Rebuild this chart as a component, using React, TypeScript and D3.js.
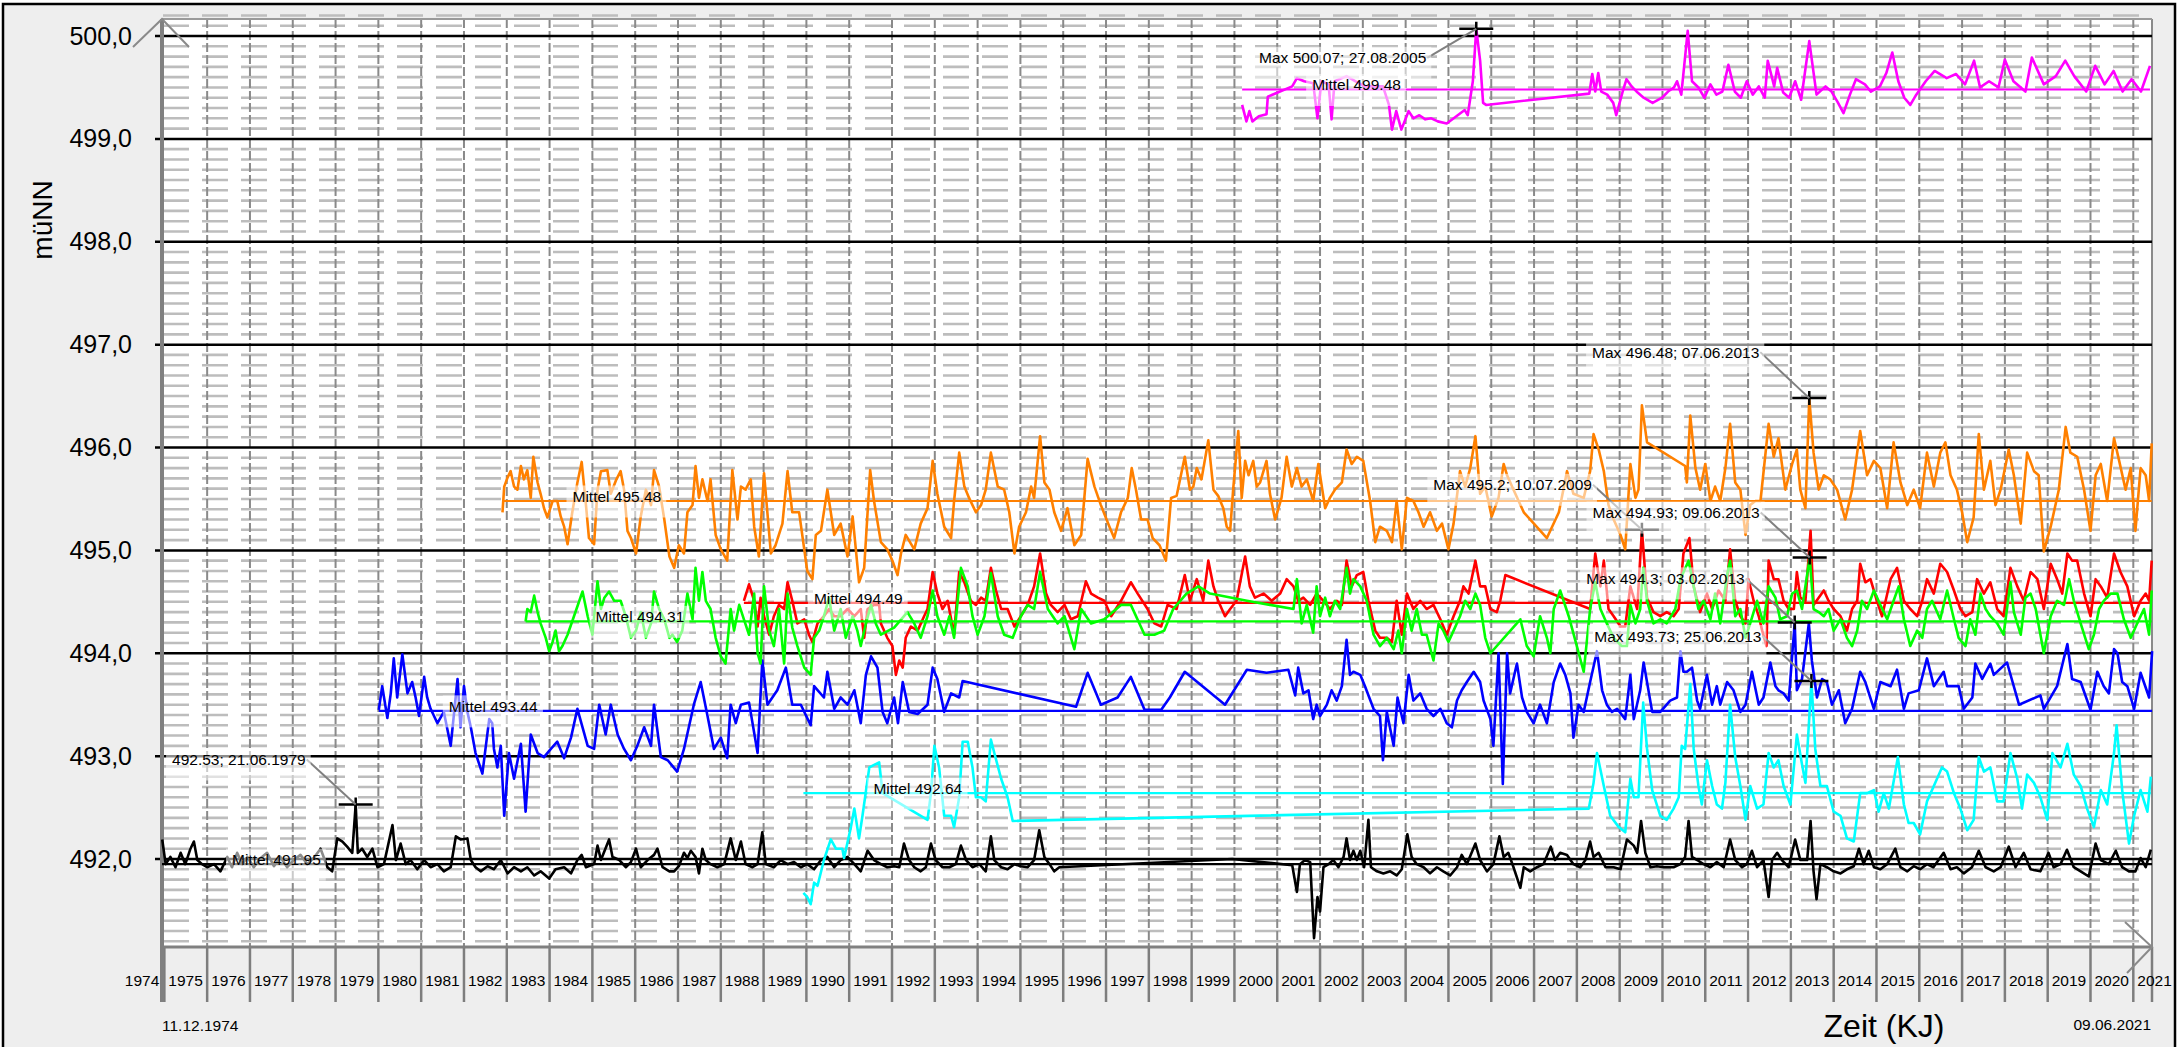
import React, { useEffect, useRef } from 'react';
import * as d3 from 'd3';

// [decimal year, level in müNN]
const blackData: [number, number][] = [
  [1974.95,492.19],[1975.03,491.95],[1975.14,492.02],[1975.26,491.92],[1975.38,492.06],[1975.49,491.95],[1975.61,492.10],[1975.69,492.17],[1975.77,491.99],[1975.88,491.95],[1976.0,491.92],[1976.16,491.95],[1976.31,491.88],
  [1976.47,492.02],[1976.58,491.92],[1976.70,492.06],[1976.82,491.95],[1976.94,492.02],[1977.09,491.92],[1977.25,492.01],[1977.40,492.06],[1977.56,491.93],[1977.71,492.02],[1977.87,491.92],[1978.02,491.99],[1978.18,492.04],[1978.34,491.95],[1978.49,492.01],[1978.65,492.10],[1978.81,491.92],[1978.92,491.88],
  [1979.04,492.20],[1979.16,492.17],[1979.27,492.12],[1979.39,492.06],[1979.47,492.53],[1979.52,492.06],[1979.62,492.10],[1979.74,492.02],[1979.86,492.10],[1979.98,491.92],
  [1980.13,491.95],[1980.33,492.33],[1980.41,491.99],[1980.52,492.15],[1980.64,491.95],[1980.75,491.99],[1980.91,491.90],[1981.07,491.99],[1981.22,491.92],[1981.38,491.95],[1981.53,491.88],[1981.69,491.92],[1981.81,492.22],[1981.92,492.19],[1982.08,492.20],[1982.16,491.99],[1982.27,491.92],[1982.39,491.88],[1982.55,491.93],[1982.70,491.90],[1982.86,491.99],[1983.02,491.86],[1983.17,491.92],[1983.33,491.88],[1983.48,491.92],[1983.64,491.84],[1983.79,491.88],[1983.99,491.81],[1984.14,491.90],[1984.34,491.92],[1984.50,491.86],[1984.65,491.99],[1984.75,492.04],[1984.85,491.92],[1985.04,491.95],[1985.12,492.13],[1985.20,491.99],[1985.39,492.19],[1985.47,492.02],[1985.63,491.99],[1985.78,491.92],[1985.90,491.97],[1986.02,492.10],[1986.13,491.92],[1986.29,491.99],[1986.44,492.04],[1986.52,492.10],[1986.64,491.92],[1986.80,491.88],
  [1986.91,491.88],[1987.02,491.93],[1987.14,492.06],[1987.22,492.01],[1987.30,492.08],[1987.41,492.02],[1987.49,491.86],[1987.57,492.10],[1987.65,491.99],[1987.76,491.95],[1987.92,491.92],[1988.08,491.95],[1988.23,492.20],[1988.35,491.99],[1988.47,492.17],[1988.58,491.95],[1988.74,491.92],[1988.86,491.95],[1988.97,492.26],[1989.05,491.95],[1989.24,491.92],[1989.40,491.99],[1989.56,491.95],[1989.71,491.97],[1989.87,491.92],[1990.02,491.95],[1990.18,491.90],[1990.34,491.99],[1990.49,492.02],[1990.65,491.92],[1990.80,491.99],[1990.96,492.02],[1991.12,491.95],[1991.27,491.88],[1991.43,492.08],[1991.58,491.99],[1991.74,491.95],[1991.89,491.92],[1992.05,491.93],[1992.17,491.92],[1992.28,492.15],[1992.40,491.99],[1992.52,491.92],[1992.67,491.88],[1992.79,491.92],[1992.91,492.15],[1993.02,491.99],[1993.18,491.92],[1993.34,491.92],[1993.49,491.95],[1993.61,492.13],[1993.73,491.99],[1993.88,491.92],[1994.04,491.95],[1994.19,491.88],[1994.31,492.22],[1994.39,491.99],[1994.55,491.92],[1994.70,491.90],[1994.86,491.95],[1995.01,491.93],[1995.17,491.92],[1995.32,491.99],[1995.44,492.28],[1995.56,492.02],[1995.68,491.95],[1995.79,491.88],[1995.91,491.92],
  [1999.95,492.0],[2001.35,491.94],
  [2001.46,491.68],[2001.53,491.95],[2001.65,491.99],[2001.77,491.97],[2001.86,491.23],[2001.94,491.63],[2002.0,491.49],[2002.08,491.92],[2002.20,491.95],[2002.31,491.99],[2002.43,491.92],[2002.55,492.02],[2002.62,492.20],[2002.70,491.99],[2002.78,492.08],[2002.86,491.99],[2002.94,492.08],[2003.03,491.92],[2003.13,492.38],[2003.19,491.92],[2003.33,491.88],[2003.48,491.86],[2003.64,491.88],[2003.79,491.84],[2003.91,491.90],[2004.04,492.24],[2004.14,492.02],[2004.26,491.95],[2004.42,491.92],[2004.57,491.86],[2004.73,491.92],[2004.88,491.88],[2005.04,491.84],[2005.20,491.92],[2005.31,492.04],[2005.43,491.95],[2005.63,492.15],[2005.74,491.99],[2005.90,491.88],[2006.05,491.95],[2006.19,492.22],[2006.29,492.02],[2006.40,492.06],[2006.52,491.92],[2006.68,491.72],[2006.76,491.92],[2006.91,491.88],[2007.07,491.92],[2007.22,491.95],[2007.39,492.12],[2007.49,491.99],[2007.61,492.06],[2007.77,492.04],[2007.92,491.95],[2008.08,491.92],[2008.20,491.99],[2008.31,492.17],[2008.39,492.02],[2008.51,492.06],[2008.67,491.92],[2008.86,491.92],[2009.02,491.90],[2009.17,492.19],[2009.33,492.13],[2009.41,492.06],[2009.50,492.37],[2009.60,492.06],[2009.72,491.92],[2009.87,491.93],[2010.03,491.92],
  [2010.26,491.92],[2010.42,491.95],[2010.53,492.02],[2010.61,492.37],[2010.69,492.02],[2010.81,491.99],[2010.96,491.95],[2011.12,491.92],[2011.27,491.97],[2011.43,491.92],[2011.58,492.19],[2011.70,491.99],[2011.86,491.92],[2011.97,491.95],[2012.09,492.08],[2012.21,491.92],[2012.36,491.99],[2012.48,491.63],[2012.56,491.99],[2012.68,492.06],[2012.79,491.99],[2012.95,491.92],[2013.10,492.19],[2013.22,491.99],[2013.38,491.99],[2013.46,492.37],[2013.53,491.88],[2013.60,491.61],[2013.69,491.95],[2013.84,491.92],[2014.0,491.88],[2014.16,491.86],[2014.31,491.90],[2014.47,491.93],[2014.59,492.10],[2014.70,491.95],[2014.82,492.08],[2014.94,491.92],[2015.09,491.90],[2015.25,491.95],[2015.44,492.10],[2015.56,491.92],[2015.72,491.88],[2015.87,491.93],[2016.02,491.90],[2016.18,491.95],[2016.33,491.92],[2016.57,492.06],[2016.73,491.90],[2016.88,491.92],[2017.04,491.86],[2017.23,491.92],[2017.39,492.08],[2017.55,491.92],[2017.74,491.88],[2017.90,491.92],[2018.09,492.12],[2018.25,491.92],[2018.44,492.06],[2018.60,491.90],[2018.83,491.88],[2019.02,492.06],[2019.14,491.92],[2019.30,491.95],[2019.45,492.09],[2019.61,491.92],[2019.77,491.88],[2019.96,491.83],[2020.12,492.15],[2020.24,491.99],[2020.43,491.95],[2020.59,492.08],[2020.74,491.92],[2020.90,491.88],[2021.05,491.88],[2021.17,492.01],[2021.29,491.92],[2021.41,492.09],
];

const blueData: [number, number][] = [
  [1980.01,493.45],[1980.09,493.68],[1980.21,493.37],[1980.29,493.61],[1980.36,493.95],[1980.44,493.57],[1980.56,493.99],[1980.68,493.61],[1980.79,493.72],[1980.87,493.57],[1980.95,493.39],[1981.07,493.77],[1981.14,493.57],[1981.22,493.46],[1981.38,493.32],[1981.53,493.43],[1981.69,493.10],[1981.85,493.75],[1981.92,493.28],[1982.0,493.68],[1982.08,493.43],[1982.16,493.28],[1982.27,493.03],[1982.43,492.83],[1982.59,493.36],[1982.66,493.32],[1982.70,493.07],[1982.78,492.89],[1982.86,493.10],[1982.94,492.42],[1983.05,493.03],[1983.17,492.78],[1983.33,493.12],[1983.44,492.46],[1983.56,493.21],[1983.72,493.03],[1983.87,492.99],[1984.03,493.07],[1984.18,493.14],[1984.34,492.98],[1984.50,493.18],[1984.65,493.46],[1984.77,493.28],[1984.89,493.10],[1985.04,493.07],[1985.16,493.50],[1985.31,493.21],[1985.43,493.50],[1985.59,493.21],[1985.74,493.07],[1985.90,492.96],[1986.05,493.10],[1986.21,493.28],[1986.37,493.10],[1986.44,493.50],[1986.60,492.99],[1986.76,492.96],[1986.98,492.85],
  [1987.14,493.07],[1987.37,493.50],[1987.53,493.72],[1987.69,493.39],[1987.84,493.07],[1988.0,493.18],[1988.15,492.98],[1988.23,493.50],[1988.35,493.32],[1988.47,493.50],[1988.66,493.52],[1988.86,493.03],[1988.97,493.93],[1989.09,493.50],[1989.32,493.64],[1989.52,493.86],[1989.67,493.50],[1989.87,493.50],[1990.10,493.30],[1990.18,493.68],[1990.41,493.57],[1990.49,493.82],[1990.65,493.46],[1990.80,493.57],[1990.96,493.50],[1991.12,493.64],[1991.27,493.32],[1991.39,493.79],[1991.51,493.97],[1991.66,493.86],[1991.78,493.43],[1991.89,493.32],[1992.05,493.57],[1992.14,493.32],[1992.25,493.72],[1992.40,493.43],[1992.60,493.41],[1992.83,493.50],[1992.95,493.86],[1993.06,493.75],[1993.22,493.43],[1993.38,493.61],[1993.57,493.57],[1993.65,493.73],
  [1996.30,493.48],[1996.57,493.81],[1996.88,493.50],[1997.27,493.57],[1997.58,493.77],[1997.90,493.45],[1998.29,493.45],[1998.49,493.57],[1998.84,493.82],[1999.78,493.50],[2000.29,493.84],[2000.75,493.81],[2001.26,493.84],
  [2001.42,493.59],[2001.49,493.86],[2001.61,493.61],[2001.73,493.64],[2001.84,493.36],[2001.92,493.50],[2002.0,493.39],[2002.16,493.50],[2002.27,493.64],[2002.39,493.54],[2002.51,493.68],[2002.62,494.13],[2002.70,493.79],[2002.78,493.82],[2002.94,493.79],[2003.05,493.68],[2003.25,493.46],[2003.40,493.39],[2003.47,492.96],[2003.56,493.43],[2003.72,493.10],[2003.81,493.57],[2003.95,493.32],[2004.07,493.79],[2004.18,493.54],[2004.34,493.61],[2004.49,493.46],[2004.65,493.39],[2004.81,493.46],[2004.96,493.32],[2005.08,493.28],[2005.20,493.54],[2005.31,493.64],[2005.43,493.72],[2005.59,493.82],[2005.74,493.72],[2005.82,493.54],[2005.98,493.36],[2006.05,493.10],[2006.17,494.0],[2006.27,492.73],[2006.37,494.0],[2006.44,493.61],[2006.60,493.90],[2006.72,493.57],[2006.83,493.43],[2006.99,493.32],[2007.14,493.50],[2007.30,493.32],[2007.46,493.72],[2007.61,493.90],[2007.73,493.79],[2007.85,493.61],[2007.92,493.18],[2008.04,493.50],[2008.16,493.43],[2008.31,493.72],[2008.47,494.02],[2008.59,493.64],[2008.70,493.50],[2008.82,493.43],[2008.94,493.46],[2009.13,493.36],[2009.25,493.79],[2009.33,493.36],[2009.48,493.64],[2009.56,493.91],[2009.76,493.43],[2009.95,493.43],
  [2010.18,493.54],[2010.34,493.57],[2010.42,494.02],[2010.49,493.82],[2010.57,493.82],[2010.69,493.86],[2010.81,493.54],[2010.88,493.46],[2011.04,493.79],[2011.16,493.50],[2011.27,493.68],[2011.35,493.50],[2011.51,493.72],[2011.66,493.64],[2011.82,493.43],[2011.94,493.50],[2012.09,493.82],[2012.25,493.50],[2012.36,493.57],[2012.52,493.91],[2012.64,493.68],[2012.71,493.64],[2012.83,493.61],[2012.95,493.54],[2013.09,494.30],[2013.14,493.64],[2013.26,493.75],[2013.42,494.29],[2013.49,493.93],[2013.61,493.57],[2013.73,493.75],[2013.84,493.72],[2013.96,493.50],[2014.12,493.64],[2014.27,493.32],[2014.43,493.46],[2014.62,493.82],[2014.74,493.72],[2014.94,493.46],[2015.09,493.72],[2015.33,493.68],[2015.48,493.84],[2015.64,493.46],[2015.75,493.61],[2015.99,493.64],[2016.18,493.95],[2016.34,493.68],[2016.57,493.82],[2016.65,493.68],[2016.92,493.68],[2017.04,493.46],[2017.24,493.57],[2017.31,493.90],[2017.47,493.75],[2017.66,493.90],[2017.74,493.79],[2018.05,493.91],[2018.33,493.50],[2018.83,493.59],[2018.91,493.46],[2019.22,493.68],[2019.46,494.09],[2019.57,493.75],[2019.77,493.72],[2020.0,493.45],[2020.16,493.82],[2020.31,493.68],[2020.43,493.61],[2020.55,494.04],[2020.63,494.0],[2020.74,493.72],[2020.86,493.68],[2021.02,493.46],[2021.17,493.81],[2021.37,493.57],[2021.44,494.02],
];

const orangeData: [number, number][] = [
  [1982.90,495.37],[1982.94,495.62],[1983.02,495.71],[1983.09,495.77],[1983.17,495.62],[1983.25,495.59],[1983.33,495.82],[1983.40,495.69],[1983.48,495.78],[1983.56,495.51],[1983.62,495.91],[1983.72,495.66],[1983.79,495.55],[1983.87,495.41],[1983.95,495.32],[1984.07,495.48],[1984.18,495.48],[1984.26,495.33],[1984.34,495.23],[1984.42,495.06],[1984.53,495.37],[1984.65,495.66],[1984.75,495.86],[1984.85,495.44],[1984.92,495.12],[1985.04,495.06],[1985.12,495.59],[1985.20,495.77],[1985.35,495.78],[1985.43,495.55],[1985.55,495.68],[1985.66,495.77],[1985.74,495.59],[1985.82,495.19],[1985.90,495.12],[1986.02,494.97],[1986.13,495.33],[1986.25,495.59],[1986.37,495.44],[1986.44,495.78],[1986.56,495.62],[1986.68,495.30],[1986.80,494.94],[1986.91,494.83],
  [1987.02,495.05],[1987.14,494.97],[1987.22,495.37],[1987.34,495.44],[1987.41,495.82],[1987.49,495.51],[1987.57,495.69],[1987.69,495.48],[1987.76,495.69],[1987.88,495.15],[1988.0,495.01],[1988.15,494.90],[1988.27,495.78],[1988.39,495.30],[1988.47,495.62],[1988.58,495.59],[1988.70,495.69],[1988.78,495.23],[1988.89,494.94],[1989.01,495.75],[1989.17,494.97],[1989.28,495.05],[1989.44,495.26],[1989.56,495.77],[1989.67,495.37],[1989.83,495.37],[1990.02,494.80],[1990.14,494.72],[1990.22,495.15],[1990.34,495.19],[1990.49,495.59],[1990.65,495.15],[1990.80,495.26],[1990.96,494.94],[1991.08,495.33],[1991.23,494.69],[1991.35,494.83],[1991.49,495.78],[1991.58,495.48],[1991.74,495.08],[1991.89,495.01],[1992.01,494.90],[1992.13,494.76],[1992.21,494.97],[1992.32,495.15],[1992.52,495.01],[1992.67,495.26],[1992.83,495.41],[1992.95,495.87],[1993.06,495.55],[1993.22,495.23],[1993.38,495.12],[1993.45,495.48],[1993.57,495.95],[1993.69,495.62],[1993.80,495.51],[1993.96,495.37],[1994.08,495.44],[1994.19,495.59],[1994.31,495.95],[1994.47,495.62],[1994.62,495.59],[1994.74,495.37],[1994.86,494.97],[1994.97,495.23],[1995.13,495.37],[1995.25,495.62],[1995.32,495.51],[1995.46,496.11],[1995.56,495.66],[1995.68,495.59],[1995.79,495.37],[1995.95,495.19],[1996.10,495.41],[1996.26,495.05],[1996.42,495.15],[1996.57,495.89],[1996.73,495.62],[1996.88,495.44],[1997.08,495.23],[1997.19,495.12],[1997.35,495.37],[1997.51,495.51],[1997.60,495.80],[1997.70,495.59],[1997.82,495.30],[1997.97,495.30],[1998.09,495.12],[1998.25,495.05],[1998.40,494.90],[1998.52,495.51],
  [1998.65,495.53],[1998.84,495.91],[1998.96,495.59],[1999.04,495.62],[1999.12,495.80],[1999.23,495.69],[1999.39,496.07],[1999.51,495.59],[1999.62,495.53],[1999.74,495.41],[1999.82,495.23],[1999.90,495.19],[1999.97,495.59],[2000.09,496.16],[2000.17,495.51],[2000.25,495.87],[2000.33,495.73],[2000.44,495.87],[2000.52,495.62],[2000.60,495.66],[2000.75,495.87],[2000.83,495.55],[2000.95,495.30],[2001.10,495.51],[2001.22,495.91],[2001.34,495.62],[2001.46,495.80],[2001.57,495.62],[2001.69,495.69],[2001.84,495.48],[2001.96,495.84],[2002.12,495.41],[2002.23,495.51],[2002.35,495.59],[2002.51,495.66],[2002.62,495.98],[2002.74,495.84],[2002.86,495.91],[2003.01,495.87],[2003.17,495.48],[2003.29,495.08],[2003.40,495.23],[2003.56,495.19],[2003.68,495.08],[2003.79,495.48],[2003.91,495.01],[2004.03,495.51],[2004.18,495.48],[2004.30,495.37],[2004.42,495.23],[2004.57,495.37],[2004.73,495.19],[2004.85,495.26],[2005.0,495.01],[2005.12,495.26],[2005.27,495.77],[2005.39,495.62],[2005.51,495.80],[2005.63,496.11],[2005.74,495.55],[2005.86,495.62],[2006.01,495.33],[2006.17,495.51],[2006.29,495.84],[2006.37,495.73],[2006.52,495.59],[2006.76,495.37],[2007.30,495.12],[2007.58,495.37],[2007.77,495.77],[2007.92,495.55],[2008.16,495.51],[2008.31,495.77],[2008.39,496.13],[2008.51,495.98],[2008.63,495.77],[2008.74,495.44],[2008.86,495.30],[2009.02,495.15],[2009.13,495.01],[2009.25,495.84],[2009.37,495.51],[2009.44,495.59],[2009.52,496.41],[2009.64,496.05],
  [2010.53,495.82],[2010.57,495.66],[2010.65,496.31],[2010.77,495.80],[2010.88,495.59],[2011.0,495.84],[2011.12,495.48],[2011.23,495.62],[2011.35,495.48],[2011.47,495.80],[2011.58,496.23],[2011.70,495.66],[2011.82,495.59],[2011.94,495.15],[2012.05,495.44],[2012.17,495.48],[2012.29,495.48],[2012.48,496.23],[2012.60,495.91],[2012.71,496.09],[2012.87,495.59],[2013.03,495.84],[2013.14,495.98],[2013.22,495.59],[2013.34,495.41],[2013.43,496.48],[2013.53,495.95],[2013.65,495.59],[2013.77,495.73],[2013.92,495.69],[2014.08,495.59],[2014.27,495.30],[2014.43,495.59],[2014.62,496.16],[2014.78,495.73],[2014.94,495.87],[2015.09,495.80],[2015.25,495.41],[2015.40,496.05],[2015.56,495.66],[2015.72,495.44],[2015.87,495.59],[2016.02,495.41],[2016.18,495.95],[2016.34,495.62],[2016.49,495.95],[2016.61,496.05],[2016.73,495.73],[2016.88,495.59],[2017.0,495.37],[2017.12,495.08],[2017.27,495.32],[2017.39,496.13],[2017.51,495.59],[2017.66,495.87],[2017.78,495.44],[2017.90,495.59],[2018.09,495.98],[2018.21,495.73],[2018.37,495.26],[2018.52,495.95],[2018.68,495.77],[2018.79,495.73],[2018.91,494.99],[2019.07,495.23],[2019.26,495.59],[2019.42,496.20],[2019.53,495.95],[2019.69,495.91],[2019.85,495.59],[2020.0,495.19],[2020.12,495.73],[2020.24,495.84],[2020.39,495.48],[2020.55,496.09],[2020.67,495.87],[2020.82,495.59],[2020.94,495.80],[2021.05,495.19],[2021.17,495.80],[2021.29,495.73],[2021.37,495.48],[2021.43,496.04],
];

const greenData: [number, number][] = [
  [1983.44,494.31],[1983.48,494.43],[1983.56,494.40],[1983.64,494.56],[1983.72,494.40],[1983.79,494.29],[1983.91,494.15],[1983.99,494.02],[1984.07,494.11],[1984.14,494.22],[1984.22,494.02],[1984.30,494.07],[1984.42,494.18],[1984.57,494.36],[1984.77,494.60],[1984.89,494.36],[1985.0,494.18],[1985.12,494.70],[1985.20,494.43],[1985.28,494.54],[1985.39,494.60],[1985.51,494.51],[1985.66,494.51],[1985.78,494.36],[1985.90,494.15],[1986.02,494.22],[1986.13,494.40],[1986.25,494.15],[1986.37,494.29],[1986.44,494.60],[1986.56,494.43],[1986.68,494.33],[1986.80,494.15],[1986.87,494.18],[1986.98,494.11],
  [1987.10,494.22],[1987.22,494.58],[1987.34,494.33],[1987.41,494.83],[1987.49,494.51],[1987.57,494.79],[1987.65,494.51],[1987.76,494.43],[1987.88,494.15],[1988.0,493.97],[1988.11,493.90],[1988.23,494.43],[1988.31,494.22],[1988.43,494.47],[1988.54,494.33],[1988.66,494.18],[1988.78,494.58],[1988.86,494.0],[1988.93,493.90],[1989.01,494.65],[1989.13,494.22],[1989.24,494.07],[1989.36,494.43],[1989.48,493.90],[1989.56,494.58],[1989.67,494.25],[1989.79,494.07],[1989.95,493.86],[1990.10,493.79],[1990.18,494.15],[1990.30,494.22],[1990.41,494.36],[1990.53,494.54],[1990.65,494.22],[1990.80,494.43],[1990.92,494.15],[1991.08,494.36],[1991.19,494.22],[1991.27,494.07],[1991.39,494.29],[1991.51,494.47],[1991.62,494.29],[1991.74,494.18],[1992.05,494.25],[1992.36,494.40],[1992.52,494.29],[1992.67,494.15],[1992.83,494.36],[1992.95,494.61],[1993.06,494.36],[1993.22,494.18],[1993.34,494.36],[1993.45,494.15],[1993.61,494.83],[1993.77,494.65],[1993.88,494.36],[1994.0,494.18],[1994.16,494.36],[1994.31,494.78],[1994.47,494.36],[1994.62,494.18],[1994.82,494.15],[1995.01,494.36],[1995.17,494.47],[1995.32,494.43],[1995.46,494.79],[1995.64,494.43],[1995.87,494.29],[1996.03,494.36],[1996.26,494.04],[1996.42,494.43],[1996.65,494.29],[1996.96,494.33],[1997.35,494.47],[1997.58,494.47],[1997.90,494.18],[1998.13,494.18],[1998.36,494.22],
  [1998.57,494.43],[1998.88,494.58],[1999.16,494.65],[1999.43,494.58],[2000.29,494.51],[2000.83,494.47],[2001.38,494.43],[2001.46,494.72],[2001.57,494.29],[2001.69,494.47],[2001.84,494.20],[2001.92,494.65],[2002.0,494.36],[2002.12,494.54],[2002.23,494.36],[2002.35,494.51],[2002.47,494.43],[2002.62,494.83],[2002.70,494.58],[2002.78,494.72],[2002.94,494.65],[2003.09,494.51],[2003.25,494.18],[2003.40,494.07],[2003.56,494.15],[2003.72,494.04],[2003.83,494.22],[2003.91,494.0],[2004.03,494.43],[2004.14,494.22],[2004.26,494.43],[2004.38,494.18],[2004.49,494.18],[2004.65,493.93],[2004.77,494.29],[2004.88,494.22],[2005.0,494.11],[2005.12,494.22],[2005.27,494.36],[2005.39,494.51],[2005.51,494.43],[2005.63,494.58],[2005.74,494.47],[2005.86,494.15],[2005.98,494.0],[2006.68,494.33],[2006.83,494.07],[2006.99,493.97],[2007.14,494.36],[2007.30,494.15],[2007.38,494.0],[2007.46,494.43],[2007.61,494.61],[2007.69,494.51],[2007.81,494.36],[2008.0,494.07],[2008.16,493.82],[2008.31,494.43],[2008.43,494.69],[2008.55,494.43],[2008.70,494.29],[2008.86,494.15],[2009.05,494.07],[2009.17,494.07],[2009.25,494.47],[2009.37,494.29],[2009.48,494.43],[2009.55,494.83],[2009.64,494.51],[2009.79,494.29],[2009.95,494.33],
  [2010.10,494.29],[2010.30,494.43],[2010.42,494.72],[2010.61,494.90],[2010.73,494.65],[2010.84,494.43],[2010.96,494.51],[2011.12,494.33],[2011.23,494.58],[2011.35,494.29],[2011.51,494.76],[2011.58,494.90],[2011.70,494.36],[2011.82,494.43],[2011.94,494.15],[2012.05,494.29],[2012.21,494.51],[2012.36,494.29],[2012.48,494.65],[2012.64,494.54],[2012.75,494.33],[2012.91,494.36],[2013.03,494.58],[2013.14,494.61],[2013.26,494.43],[2013.44,494.93],[2013.53,494.43],[2013.65,494.40],[2013.77,494.36],[2013.88,494.43],[2014.0,494.22],[2014.16,494.33],[2014.31,494.15],[2014.43,494.07],[2014.55,494.22],[2014.66,494.51],[2014.78,494.43],[2014.94,494.61],[2015.09,494.47],[2015.25,494.33],[2015.40,494.51],[2015.52,494.65],[2015.64,494.33],[2015.79,494.07],[2015.95,494.22],[2016.07,494.15],[2016.18,494.43],[2016.30,494.51],[2016.49,494.33],[2016.65,494.61],[2016.81,494.33],[2016.92,494.15],[2017.08,494.07],[2017.19,494.33],[2017.31,494.18],[2017.43,494.58],[2017.55,494.43],[2017.66,494.36],[2017.82,494.29],[2017.97,494.18],[2018.13,494.69],[2018.21,494.40],[2018.37,494.18],[2018.48,494.54],[2018.60,494.58],[2018.72,494.43],[2018.91,494.0],[2019.07,494.36],[2019.22,494.51],[2019.38,494.47],[2019.50,494.72],[2019.61,494.51],[2019.77,494.29],[2019.96,494.04],[2020.08,494.18],[2020.20,494.43],[2020.31,494.51],[2020.47,494.58],[2020.63,494.58],[2020.78,494.33],[2020.94,494.15],[2021.09,494.29],[2021.25,494.43],[2021.37,494.18],[2021.43,494.61],
];

const redData: [number, number][] = [
  [1988.54,494.51],[1988.66,494.67],[1988.78,494.51],[1988.86,494.26],[1988.93,494.54],[1989.01,494.36],[1989.13,494.18],[1989.24,494.36],[1989.36,494.47],[1989.48,494.43],[1989.56,494.69],[1989.67,494.51],[1989.79,494.29],[1989.95,494.33],[1990.06,494.18],[1990.14,494.11],[1990.26,494.29],[1990.41,494.36],[1990.53,494.43],[1990.65,494.36],[1990.80,494.36],[1990.96,494.43],[1991.12,494.36],[1991.27,494.43],[1991.35,494.15],[1991.43,494.43],[1991.58,494.47],[1991.70,494.47],[1991.74,494.29],[1991.89,494.15],[1992.01,494.07],[1992.09,493.79],[1992.17,493.93],[1992.25,493.86],[1992.32,494.15],[1992.44,494.26],[1992.60,494.22],[1992.75,494.36],[1992.83,494.43],[1992.95,494.79],[1993.06,494.58],[1993.18,494.43],[1993.30,494.51],[1993.45,494.18],[1993.57,494.79],[1993.69,494.69],[1993.84,494.51],[1993.96,494.47],[1994.08,494.54],[1994.19,494.51],[1994.31,494.83],[1994.43,494.61],[1994.55,494.43],[1994.70,494.43],[1994.86,494.26],[1995.01,494.36],[1995.17,494.47],[1995.32,494.65],[1995.46,494.97],[1995.60,494.58],[1995.71,494.47],[1995.87,494.40],[1996.03,494.47],[1996.18,494.33],[1996.34,494.36],[1996.53,494.70],[1996.65,494.58],[1996.81,494.54],[1996.96,494.51],[1997.12,494.36],[1997.35,494.51],[1997.58,494.69],[1997.74,494.58],[1997.97,494.43],[1998.13,494.29],[1998.29,494.26],[1998.44,494.47],
  [1998.65,494.43],[1998.84,494.76],[1998.96,494.51],[1999.12,494.72],[1999.27,494.51],[1999.39,494.90],[1999.51,494.65],[1999.62,494.51],[1999.78,494.36],[1999.90,494.43],[2000.05,494.51],[2000.25,494.94],[2000.36,494.65],[2000.48,494.54],[2000.68,494.58],[2000.87,494.51],[2001.07,494.58],[2001.22,494.72],[2001.38,494.65],[2001.49,494.51],[2001.61,494.54],[2001.77,494.47],[2001.92,494.58],[2002.08,494.51],[2002.23,494.43],[2002.39,494.51],[2002.51,494.47],[2002.62,494.90],[2002.74,494.65],[2002.86,494.76],[2003.01,494.79],[2003.13,494.51],[2003.29,494.22],[2003.40,494.15],[2003.56,494.15],[2003.68,494.11],[2003.79,494.51],[2003.91,494.18],[2004.03,494.58],[2004.18,494.43],[2004.34,494.51],[2004.49,494.43],[2004.65,494.47],[2004.81,494.33],[2004.96,494.18],[2005.12,494.36],[2005.27,494.51],[2005.35,494.65],[2005.47,494.58],[2005.63,494.90],[2005.74,494.65],[2005.86,494.65],[2005.98,494.43],[2006.13,494.40],[2006.21,494.51],[2006.33,494.76],[2008.31,494.43],[2008.43,494.97],[2008.55,494.65],[2008.63,494.90],[2008.74,494.43],[2008.86,494.36],[2009.02,494.26],[2009.13,494.26],[2009.25,494.65],[2009.41,494.43],[2009.52,495.20],[2009.64,494.54],[2009.79,494.40],[2009.95,494.36],
  [2010.10,494.40],[2010.26,494.36],[2010.38,494.43],[2010.49,494.97],[2010.63,495.12],[2010.73,494.65],[2010.88,494.40],[2011.04,494.58],[2011.16,494.43],[2011.31,494.61],[2011.47,494.51],[2011.58,495.01],[2011.70,494.51],[2011.82,494.36],[2011.94,494.29],[2012.01,494.72],[2012.13,494.51],[2012.25,494.36],[2012.33,494.22],[2012.43,494.07],[2012.48,494.90],[2012.60,494.72],[2012.71,494.72],[2012.83,494.51],[2012.95,494.43],[2013.07,494.43],[2013.14,494.79],[2013.22,494.54],[2013.34,494.51],[2013.46,495.19],[2013.53,494.47],[2013.65,494.54],[2013.77,494.61],[2013.88,494.51],[2014.0,494.43],[2014.16,494.36],[2014.31,494.22],[2014.43,494.43],[2014.55,494.51],[2014.62,494.87],[2014.74,494.69],[2014.86,494.72],[2015.01,494.51],[2015.13,494.36],[2015.33,494.72],[2015.48,494.83],[2015.64,494.51],[2015.79,494.43],[2015.95,494.36],[2016.07,494.51],[2016.18,494.72],[2016.34,494.58],[2016.49,494.87],[2016.65,494.79],[2016.81,494.61],[2016.96,494.43],[2017.08,494.36],[2017.24,494.40],[2017.35,494.72],[2017.51,494.58],[2017.66,494.69],[2017.82,494.43],[2017.97,494.36],[2018.13,494.83],[2018.29,494.65],[2018.44,494.51],[2018.60,494.79],[2018.76,494.72],[2018.91,494.43],[2019.07,494.87],[2019.22,494.72],[2019.34,494.58],[2019.46,494.97],[2019.57,494.90],[2019.69,494.90],[2019.85,494.58],[2020.0,494.36],[2020.12,494.72],[2020.24,494.65],[2020.39,494.54],[2020.55,494.97],[2020.70,494.79],[2020.86,494.65],[2021.02,494.36],[2021.17,494.51],[2021.29,494.58],[2021.37,494.51],[2021.43,494.90],
];

const cyanData: [number, number][] = [
  [1989.93,491.67],[1990.02,491.63],[1990.10,491.56],[1990.18,491.77],[1990.26,491.74],[1990.41,491.99],[1990.57,492.19],[1990.69,492.10],[1990.84,492.10],[1990.88,492.01],[1991.04,492.31],[1991.12,492.49],[1991.23,492.20],[1991.31,492.42],[1991.47,492.89],[1991.70,492.94],[1991.78,492.64],[1992.75,492.40],[1992.83,492.38],[1992.91,492.64],[1992.99,493.10],[1993.10,492.89],[1993.22,492.42],[1993.38,492.42],[1993.45,492.31],[1993.57,492.60],[1993.65,493.14],[1993.77,493.14],[1993.88,492.89],[1993.96,492.60],[1994.08,492.60],[1994.19,492.56],[1994.31,493.16],[1994.39,493.03],[1994.55,492.78],[1994.70,492.60],[1994.82,492.37],
  [2008.28,492.49],[2008.39,492.74],[2008.47,493.03],[2008.63,492.71],[2008.78,492.42],[2008.98,492.31],[2009.13,492.26],[2009.25,492.78],[2009.33,492.60],[2009.44,492.60],[2009.55,493.52],[2009.64,493.07],[2009.76,492.67],[2009.95,492.42],
  [2010.10,492.38],[2010.26,492.49],[2010.38,492.60],[2010.45,493.10],[2010.53,493.07],[2010.65,493.70],[2010.73,493.07],[2010.84,492.71],[2010.92,492.53],[2011.04,492.96],[2011.16,492.71],[2011.27,492.53],[2011.39,492.49],[2011.47,492.74],[2011.58,493.50],[2011.70,492.99],[2011.82,492.71],[2011.94,492.38],[2012.05,492.71],[2012.21,492.49],[2012.36,492.53],[2012.48,493.03],[2012.60,492.89],[2012.71,492.96],[2012.83,492.71],[2012.99,492.53],[2013.14,493.21],[2013.26,492.92],[2013.34,492.74],[2013.48,493.73],[2013.57,493.07],[2013.69,492.71],[2013.84,492.71],[2014.0,492.46],[2014.16,492.42],[2014.31,492.20],[2014.47,492.17],[2014.62,492.64],[2014.78,492.64],[2014.94,492.67],[2015.05,492.46],[2015.17,492.64],[2015.29,492.49],[2015.50,492.99],[2015.64,492.53],[2015.75,492.35],[2015.87,492.35],[2016.02,492.24],[2016.18,492.56],[2016.34,492.71],[2016.53,492.89],[2016.65,492.85],[2016.81,492.64],[2016.96,492.49],[2017.12,492.28],[2017.27,492.38],[2017.39,492.99],[2017.51,492.85],[2017.66,492.89],[2017.82,492.56],[2017.97,492.56],[2018.13,493.03],[2018.29,492.78],[2018.40,492.49],[2018.52,492.82],[2018.68,492.74],[2018.83,492.60],[2018.99,492.38],[2019.11,493.03],[2019.30,492.89],[2019.46,493.12],[2019.61,492.82],[2019.77,492.71],[2019.92,492.49],[2020.08,492.31],[2020.24,492.67],[2020.39,492.53],[2020.55,493.03],[2020.61,493.30],[2020.74,492.67],[2020.90,492.15],[2021.02,492.42],[2021.17,492.67],[2021.33,492.46],[2021.41,492.80],
];

const magentaData: [number, number][] = [
  [2000.18,499.33],[2000.28,499.17],[2000.35,499.27],[2000.42,499.17],[2000.57,499.22],[2000.75,499.24],[2000.78,499.41],[2001.35,499.51],[2001.46,499.59],[2001.63,499.56],[2001.84,499.54],[2001.94,499.20],[2002.03,499.56],[2002.20,499.53],[2002.27,499.19],[2002.34,499.56],[2002.62,499.61],[2002.83,499.56],[2003.05,499.51],[2003.47,499.51],[2003.61,499.33],[2003.68,499.09],[2003.78,499.27],[2003.90,499.09],[2004.07,499.27],[2004.18,499.20],[2004.32,499.23],[2004.46,499.19],[2004.60,499.20],[2004.75,499.17],[2004.96,499.15],[2005.38,499.28],[2005.45,499.23],[2005.57,499.56],[2005.65,500.07],[2005.74,499.76],[2005.81,499.35],[2005.88,499.33],
  [2008.29,499.44],[2008.36,499.63],[2008.43,499.46],[2008.50,499.64],[2008.57,499.46],[2008.71,499.43],[2008.85,499.35],[2008.92,499.23],[2009.07,499.46],[2009.16,499.58],[2009.28,499.51],[2009.42,499.45],[2009.56,499.40],[2009.77,499.35],[2009.99,499.40],[2010.13,499.46],[2010.27,499.50],[2010.34,499.56],[2010.44,499.43],[2010.59,500.05],[2010.69,499.56],[2010.84,499.50],[2010.98,499.40],[2011.12,499.53],[2011.26,499.43],[2011.40,499.46],[2011.54,499.72],[2011.69,499.46],[2011.83,499.40],[2011.97,499.56],[2012.11,499.43],[2012.25,499.51],[2012.39,499.40],[2012.46,499.76],[2012.61,499.51],[2012.68,499.69],[2012.82,499.45],[2012.96,499.40],[2013.10,499.56],[2013.24,499.38],[2013.43,499.95],[2013.60,499.43],[2013.81,499.51],[2013.95,499.46],[2014.09,499.36],[2014.23,499.25],[2014.38,499.43],[2014.52,499.58],[2014.73,499.53],[2014.87,499.46],[2015.08,499.51],[2015.23,499.64],[2015.37,499.84],[2015.51,499.56],[2015.65,499.40],[2015.79,499.33],[2015.93,499.43],[2016.15,499.56],[2016.36,499.66],[2016.64,499.59],[2016.86,499.63],[2017.07,499.53],[2017.28,499.76],[2017.42,499.50],[2017.63,499.56],[2017.85,499.50],[2018.0,499.77],[2018.20,499.56],[2018.48,499.46],[2018.63,499.79],[2018.91,499.53],[2019.19,499.61],[2019.41,499.76],[2019.62,499.61],[2019.90,499.46],[2020.11,499.71],[2020.33,499.53],[2020.54,499.66],[2020.75,499.46],[2020.96,499.58],[2021.18,499.46],[2021.39,499.71],
];

const seriesNames = ['black', 'blue', 'cyan', 'orange', 'red', 'green', 'magenta'];
const seriesColors = ['#000000', '#0000ff', '#00ffff', '#ff8000', '#ff0000', '#00ff00', '#ff00ff'];
const seriesData = [blackData, blueData, cyanData, orangeData, redData, greenData, magentaData];
const seriesMeans = [491.95, 493.44, 492.64, 495.48, 494.49, 494.31, 499.48];

// max annotations: text, date (decimal year), value, label offset above/below the point
const maxTexts = ['492.53; 21.06.1979', 'Max 500.07; 27.08.2005', 'Max 496.48; 07.06.2013', 'Max 495.2; 10.07.2009', 'Max 494.93; 09.06.2013', 'Max 494.3; 03.02.2013', 'Max 493.73; 25.06.2013'];
const maxDates = [1979.47, 2005.65, 2013.43, 2009.52, 2013.44, 2013.09, 2013.48];
const maxValues = [492.53, 500.07, 496.48, 495.2, 494.93, 494.3, 493.73];
const maxOffsets = [-45, 29, -46, -45, -45, -44, -45];

const yTicks = [492, 493, 494, 495, 496, 497, 498, 499, 500];
const yearLabels = d3.range(1974, 2022);
const startDate = 1974.945; // 11.12.1974
const endDate = 2021.437;   // 09.06.2021

const FONT = "'Liberation Sans', Arial, Helvetica, sans-serif";

const App = () => {
  const ref = useRef<SVGSVGElement | null>(null);

  useEffect(() => {
    const W = 2183, H = 1047;
    const left = 162, right = 2152, top = 19, bottom = 947;
    const svg = d3.select(ref.current).attr('width', W).attr('height', H);
    svg.selectAll('*').remove();

    const x = d3.scaleLinear().domain([startDate, endDate]).range([left, right]);
    const y = d3.scaleLinear().domain([492, 500]).range([859, 36]);

    // frame
    svg.append('rect').attr('width', W).attr('height', H).attr('fill', '#ffffff');
    svg.append('rect').attr('x', 3).attr('y', 4).attr('width', 2172).attr('height', 1060)
      .attr('fill', '#eeeeee').attr('stroke', '#000').attr('stroke-width', 2.5);
    svg.append('rect').attr('x', left).attr('y', top).attr('width', right - left).attr('height', bottom - top)
      .attr('fill', '#ffffff');

    // minor dashed grid every 0.1
    const minor = d3.range(4912, 5003).filter(d => d % 10 !== 0).map(d => d / 10);
    svg.append('g').selectAll('line').data(minor).enter().append('line')
      .attr('x1', left + 1).attr('x2', right)
      .attr('y1', d => y(d)).attr('y2', d => y(d))
      .attr('stroke', '#bdbdbd').attr('stroke-width', 2.6).attr('stroke-dasharray', '26,13');

    // vertical year lines
    const yearTicks = d3.range(1975, 2022);
    svg.append('g').selectAll('line').data(yearTicks.slice(1)).enter().append('line')
      .attr('x1', d => x(d)).attr('x2', d => x(d)).attr('y1', top).attr('y2', bottom)
      .attr('stroke', '#8a8a8a').attr('stroke-width', 2).attr('stroke-dasharray', '9,3');
    svg.append('g').selectAll('line').data(yearTicks.map(d => x(d)).concat([right])).enter().append('line')
      .attr('x1', d => d).attr('x2', d => d).attr('y1', bottom).attr('y2', 1002)
      .attr('stroke', '#7d7d7d').attr('stroke-width', 2.5);
    svg.append('line').attr('x1', right).attr('x2', right).attr('y1', top).attr('y2', bottom)
      .attr('stroke', '#8a8a8a').attr('stroke-width', 2);
    svg.append('line').attr('x1', left).attr('x2', right).attr('y1', top).attr('y2', top)
      .attr('stroke', '#9a9a9a').attr('stroke-width', 2);

    // major grid
    svg.append('g').selectAll('line').data(yTicks).enter().append('line')
      .attr('x1', 155).attr('x2', right).attr('y1', d => y(d)).attr('y2', d => y(d))
      .attr('stroke', '#000').attr('stroke-width', 2.5);

    // axes
    svg.append('line').attr('x1', left).attr('x2', left).attr('y1', top).attr('y2', 1002)
      .attr('stroke', '#808080').attr('stroke-width', 4);
    svg.append('line').attr('x1', left).attr('x2', right).attr('y1', bottom).attr('y2', bottom)
      .attr('stroke', '#808080').attr('stroke-width', 3);
    svg.append('path').attr('d', `M133,47 L${left},${top} L189,47`)
      .attr('fill', 'none').attr('stroke', '#8a8a8a').attr('stroke-width', 2);
    svg.append('path').attr('d', `M2125,922 L${right},${bottom} L2127,973`)
      .attr('fill', 'none').attr('stroke', '#8a8a8a').attr('stroke-width', 2);

    // series + mean lines
    const line = d3.line<[number, number]>().x(d => x(d[0])).y(d => y(d[1]));
    const gSeries = svg.append('g');
    seriesNames.forEach((name, i) => {
      const data = seriesData[i];
      gSeries.append('path').datum(data)
        .attr('class', `series ${name}`)
        .attr('d', line)
        .attr('fill', 'none').attr('stroke', seriesColors[i]).attr('stroke-width', 2.6)
        .attr('stroke-linejoin', 'round');
      const t0 = i === 0 ? startDate : data[0][0];
      const t1 = i === 0 ? endDate : data[data.length - 1][0];
      gSeries.append('line')
        .attr('x1', x(t0)).attr('x2', x(t1))
        .attr('y1', y(seriesMeans[i])).attr('y2', y(seriesMeans[i]))
        .attr('stroke', seriesColors[i]).attr('stroke-width', 2.2);
    });

    // max crosses and leaders
    const gMax = svg.append('g');
    maxTexts.forEach((_, i) => {
      const px = x(maxDates[i]), py = y(maxValues[i]);
      gMax.append('path').attr('d', `M${px - 17},${py} H${px + 17} M${px},${py - 7} V${py + 7}`)
        .attr('stroke', '#000').attr('stroke-width', 2.5).attr('fill', 'none');
      gMax.append('line').attr('x1', px - 49).attr('y1', py + maxOffsets[i]).attr('x2', px).attr('y2', py)
        .attr('stroke', '#808080').attr('stroke-width', 2);
    });

    // labels with translucent boxes
    const gLabels = svg.append('g');
    const addLabel = (text: string, tx: number, cy: number, anchor: string) => {
      const g = gLabels.append('g');
      const rect = g.append('rect');
      const t = g.append('text').attr('x', tx).attr('y', cy + 5.5)
        .attr('text-anchor', anchor).attr('font-family', FONT).attr('font-size', 15.5)
        .attr('fill', '#000').text(text);
      const bb = (t.node() as SVGTextElement).getBBox();
      rect.attr('x', bb.x - 6).attr('y', cy - 11).attr('width', bb.width + 11).attr('height', 32)
        .attr('fill', '#ffffff').attr('fill-opacity', 0.55);
    };
    seriesNames.forEach((_, i) => {
      const t0 = i === 0 ? startDate : seriesData[i][0][0];
      addLabel(`Mittel ${seriesMeans[i]}`, x(t0) + 70, y(seriesMeans[i]) - 4.5, 'start');
    });
    maxTexts.forEach((txt, i) => {
      addLabel(txt, x(maxDates[i]) - 50, y(maxValues[i]) + maxOffsets[i], 'end');
    });

    // axis texts
    const fmt = d3.format('.1f');
    svg.append('g').selectAll('text').data(yTicks).enter().append('text')
      .attr('x', 132).attr('y', d => y(d) + 8.5).attr('text-anchor', 'end')
      .attr('font-family', FONT).attr('font-size', 25).text(d => fmt(d).replace('.', ','));
    svg.append('text').attr('transform', 'translate(52,220) rotate(-90)').attr('text-anchor', 'middle')
      .attr('font-family', FONT).attr('font-size', 28).text('müNN');
    svg.append('g').selectAll('text').data(yearLabels).enter().append('text')
      .attr('x', d => (d === 1974 ? x(1975) - 5 : x(d) + 4))
      .attr('y', 986).attr('text-anchor', d => (d === 1974 ? 'end' : 'start'))
      .attr('font-family', FONT).attr('font-size', 15.5).text(d => d);
    svg.append('text').attr('x', left).attr('y', 1031).attr('font-family', FONT).attr('font-size', 15.5)
      .text('11.12.1974');
    svg.append('text').attr('x', 2151).attr('y', 1030).attr('text-anchor', 'end').attr('font-family', FONT)
      .attr('font-size', 15.5).text('09.06.2021');
    svg.append('text').attr('x', 1884).attr('y', 1037).attr('text-anchor', 'middle').attr('font-family', FONT)
      .attr('font-size', 32).text('Zeit (KJ)');
  }, []);

  return (
    <svg ref={ref} style={{ position: 'absolute', left: 0, top: 0, display: 'block' }}></svg>
  );
};

export default App;
